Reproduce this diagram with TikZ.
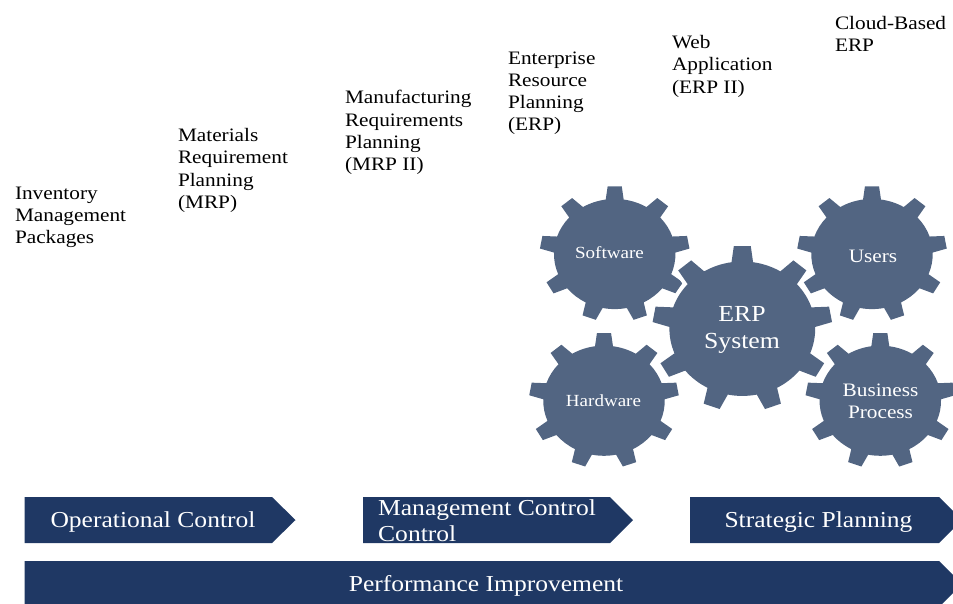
\documentclass[tikz,border=0pt]{standalone}
\usepackage{fontspec}
\setmainfont{Liberation Serif}[FakeStretch=1.12]
\definecolor{gearblue}{HTML}{526582}
\definecolor{bandblue}{HTML}{1F3864}
\tikzset{
  gearfill/.style={fill=gearblue,draw=none},
  halo/.style={preaction={draw=white,line width=8pt,line join=round}},
  band/.style={fill=bandblue,draw=none},
  lab/.style={inner sep=0pt,outer sep=0pt,align=left,anchor=north west,text=black,font=\fontsize{19}{22.2}\selectfont},
  geartext/.style={inner sep=0pt,align=center,text=white,font=\fontsize{17}{22}\selectfont},
  geartextb/.style={inner sep=0pt,align=center,text=white,font=\fontsize{19}{22}\selectfont},
  bigtext/.style={inner sep=0pt,align=center,text=white,font=\fontsize{23}{27}\selectfont},
  bandtext/.style={inner sep=0pt,align=center,text=white,font=\fontsize{22.8}{26}\selectfont},
}
% options, centre x, centre y, tip radius x, tip radius y
\newcommand{\gearshape}[5][]{%
  \begin{scope}[shift={(#2,#3)},x=#4pt,y=#5pt]
    \path[gearfill,#1] (81.5:.81)
      \foreach \a in {90,130,170,210,250,290,330,370,410} {
        -- (\a-8.5:.81) -- (\a-5.4:1) -- (\a+5.4:1) -- (\a+8.5:.81)
        arc[start angle=\a+8.5,end angle=\a+31.5,radius=.81]
      } -- cycle;
  \end{scope}}
\begin{document}
\begin{tikzpicture}[x=1pt,y=-1pt]
  \useasboundingbox (0,0) rectangle (953,603);
  \clip (0,0) rectangle (953,603);
  \gearshape{614.7}{254}{75}{68}
  \gearshape{872}{254}{75}{68}
  \gearshape{604}{400.7}{75}{68}
  \gearshape{880.3}{400.7}{75}{68}
  \gearshape[halo]{742.3}{328.7}{90}{83}
  \node[geartext] (sw) at (609.5,253) {Software};
  \node[geartextb] (us) at (873,256.5) {Users};
  \node[geartext] (hw) at (603.5,401) {Hardware};
  \node[geartextb] (bp) at (880.5,401.5) {Business\\Process};
  \node[bigtext] (erp) at (742,330) {ERP\\System};
  \node[lab] (inv) at (15,187) {Inventory\\Management\\Packages};
  \node[lab] (mrp) at (178,128.5) {Materials\\Requirement\\Planning\\(MRP)};
  \node[lab] (mrp2) at (345,90.5) {Manufacturing\\Requirements\\Planning\\(MRP II)};
  \node[lab] (ent) at (508,51.5) {Enterprise\\Resource\\Planning\\(ERP)};
  \node[lab] (web) at (672,35.5) {Web\\Application\\(ERP II)};
  \node[lab] (cloud) at (835,16.5) {Cloud-Based\\ERP};
  \fill[band] (24.5,497) -- (272,497) -- (295.5,520) -- (272,543) -- (24.5,543) -- cycle;
  \fill[band] (363,497) -- (610,497) -- (633,520) -- (610,543) -- (363,543) -- cycle;
  \fill[band] (690,497) -- (939,497) -- (962,520) -- (939,543) -- (690,543) -- cycle;
  \fill[band] (24.5,561) -- (939,561) -- (962,584) -- (939,607) -- (24.5,607) -- cycle;
  \node[bandtext] (op) at (153,522) {Operational Control};
  \node[bandtext,align=left,anchor=west] (mc) at (378,521) {Management Control\\Control};
  \node[bandtext] (sp) at (818.5,522) {Strategic Planning};
  \node[bandtext] (pi) at (486,586) {Performance Improvement};
\end{tikzpicture}
\end{document}
